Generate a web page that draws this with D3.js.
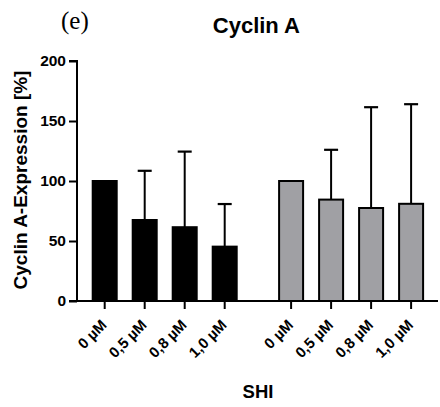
<!DOCTYPE html>
<html><head><meta charset="utf-8">
<script src="https://cdn.jsdelivr.net/npm/d3@7"></script>
<style>body{margin:0;background:#fff}</style>
</head><body>
<svg id="c" width="440" height="407"></svg>
<script>
const categories = ["0 µM","0,5 µM","0,8 µM","1,0 µM"];
const groups = ["black","gray"];
const blackValues = [100, 67.5, 61.5, 45.3];
const blackErrors = [0, 41, 63, 35.5];
const grayValues = [100, 84.5, 77.5, 81];
const grayErrors = [0, 41.5, 84, 83];
const yTicks = [0, 50, 100, 150, 200];

const svg = d3.select("#c");
const font = "'Liberation Sans', Arial, sans-serif";
const y = d3.scaleLinear().domain([0, 200]).range([301, 61]);
const x = d3.scaleLinear().domain([0, 1]).range([104.7, 144.7]);
const groupOffset = 4.66;
const data = [];
categories.forEach((c, i) => data.push({g: 0, i, cat: c, v: blackValues[i], e: blackErrors[i]}));
categories.forEach((c, i) => data.push({g: 1, i, cat: c, v: grayValues[i], e: grayErrors[i]}));
data.forEach(d => d.pos = d.i + d.g * groupOffset);
const bw = 24;

// error bars (upper only)
const eb = svg.append("g");
data.filter(d => d.e > 0).forEach(d => {
  const cx = x(d.pos);
  eb.append("line").attr("x1", cx).attr("x2", cx).attr("y1", y(d.v)).attr("y2", y(d.v + d.e))
    .attr("stroke", "#000").attr("stroke-width", 2);
  eb.append("line").attr("x1", cx - 7).attr("x2", cx + 7).attr("y1", y(d.v + d.e)).attr("y2", y(d.v + d.e))
    .attr("stroke", "#000").attr("stroke-width", 2.2);
});

// bars
svg.append("g").selectAll("rect").data(data).join("rect")
  .attr("x", d => x(d.pos) - bw / 2)
  .attr("width", bw)
  .attr("y", d => y(d.v))
  .attr("height", d => y(0) - y(d.v))
  .attr("fill", d => d.g === 0 ? "#000" : "#a0a0a4")
  .attr("stroke", "#000").attr("stroke-width", 2);

// y axis
const ya = svg.append("g").attr("transform", "translate(77,0)")
  .call(d3.axisLeft(y).tickValues(yTicks).tickSize(8).tickPadding(3));
ya.select(".domain").attr("stroke-width", 2).attr("d", `M-8,${y(200)}H0V${y(0)}`);
ya.selectAll(".tick line").attr("stroke-width", 2);
ya.selectAll("text").attr("font-family", font).attr("font-weight", "bold").attr("font-size", 15.5).attr("fill", "#000");

// x axis
svg.append("line").attr("x1", 69).attr("x2", 438).attr("y1", y(0)).attr("y2", y(0))
  .attr("stroke", "#000").attr("stroke-width", 2);
const xt = svg.append("g");
data.forEach(d => {
  const cx = x(d.pos);
  xt.append("line").attr("x1", cx).attr("x2", cx).attr("y1", y(0)).attr("y2", y(0) + 8)
    .attr("stroke", "#000").attr("stroke-width", 2);
  xt.append("text").attr("transform", `translate(${cx + 3},${y(0) + 25}) rotate(-45)`)
    .attr("text-anchor", "end").attr("font-family", font).attr("font-weight", "bold")
    .attr("font-size", 15).text(d.cat);
});

// labels
svg.append("text").attr("transform", "translate(27,180) rotate(-90)").attr("text-anchor", "middle")
  .attr("font-family", font).attr("font-weight", "bold").attr("font-size", 19).text("Cyclin A-Expression [%]");
svg.append("text").attr("x", 256.4).attr("y", 33.3).attr("text-anchor", "middle")
  .attr("font-family", font).attr("font-weight", "bold").attr("font-size", 22).text("Cyclin A");
svg.append("text").attr("x", 61).attr("y", 29)
  .attr("font-family", "'Liberation Serif', 'Times New Roman', serif").attr("font-size", 25).text("(e)");
svg.append("text").attr("x", 258).attr("y", 398).attr("text-anchor", "middle")
  .attr("font-family", font).attr("font-weight", "bold").attr("font-size", 18.5).text("SHI");
</script>
</body></html>
